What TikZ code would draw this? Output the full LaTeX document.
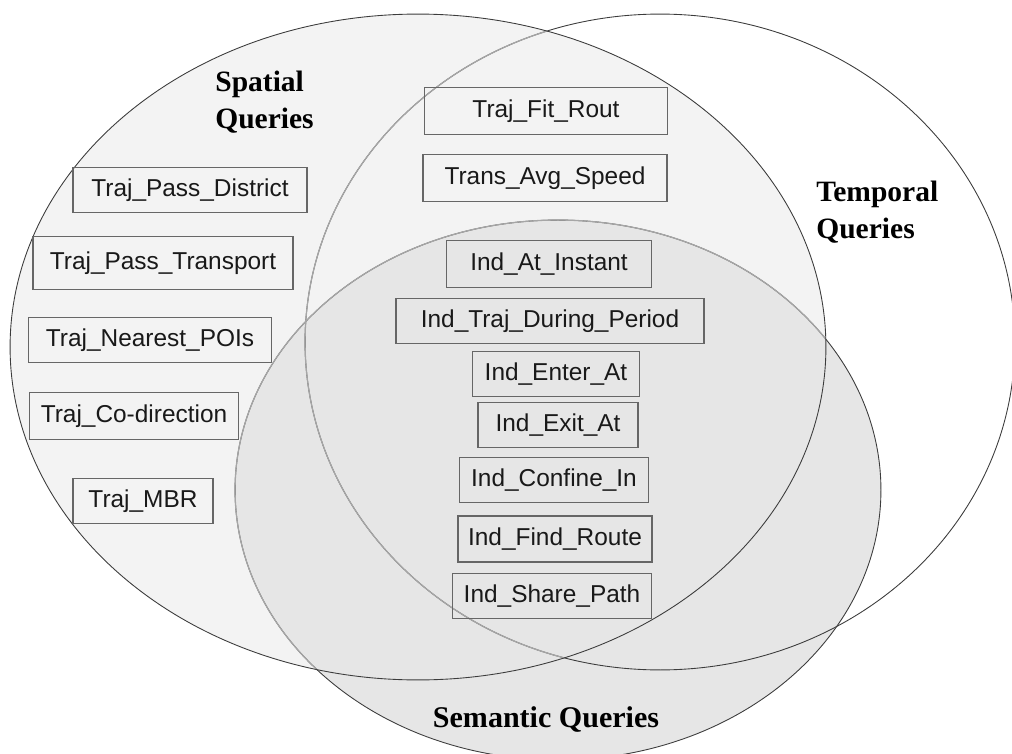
\documentclass[tikz,border=0pt]{standalone}
\usepackage{fontspec}
\setmainfont{Liberation Serif}
\setsansfont{Liberation Sans}
\usepackage{tikz}
\definecolor{spatcol}{RGB}{243,243,243}
\definecolor{semcol}{RGB}{230,230,230}
\definecolor{rimcol}{RGB}{60,60,60}
\tikzset{
  % query box
  qbox/.style={rectangle, draw=black!60, line width=0.7pt, minimum height=0.9cm, inner sep=2pt,
               text=black!90, font=\fontsize{13.9}{16}\selectfont\sffamily},
  % set title
  settitle/.style={font=\fontsize{16.8}{20.6}\selectfont\bfseries, align=left, inner sep=0pt},
  % set outline
  rim/.style={draw=rimcol, line width=0.5pt},
  % outline seen through the spatial set
  softrim/.style={draw=black!35, line width=0.7pt},
}

\begin{document}
\begin{tikzpicture}[x=0.02cm, y=-0.02cm]
  \useasboundingbox (0,0) rectangle (1012,754);
  \clip (0,0) rectangle (1012,754);
  % set fills
  \fill[spatcol] (418,347) ellipse [x radius=8.16cm, y radius=6.66cm];
  \fill[semcol] (558,490) ellipse [x radius=6.46cm, y radius=5.4cm];
  % outlines
  \draw[rim] (660,342) ellipse [x radius=7.1cm, y radius=6.56cm];
  \draw[rim] (558,490) ellipse [x radius=6.46cm, y radius=5.4cm];
  \begin{scope}
    \clip (418,347) ellipse [x radius=8.16cm, y radius=6.66cm];
    \draw[softrim] (660,342) ellipse [x radius=7.1cm, y radius=6.56cm];
    \draw[softrim] (558,490) ellipse [x radius=6.46cm, y radius=5.4cm];
  \end{scope}
  \draw[rim] (418,347) ellipse [x radius=8.16cm, y radius=6.66cm];

  % set titles (base = last line)
  \node[settitle, anchor=base west] (spatial) at (215,128) {Spatial\\Queries};
  \node[settitle, anchor=base west] (temporal) at (816,238) {Temporal\\Queries};
  \node[settitle, anchor=base, font=\fontsize{17.1}{20.6}\selectfont\bfseries] (semantic) at (546,727) {Semantic Queries};

  % spatial only
  \node[qbox, minimum width=4.68cm] (passdistrict) at (190,190) {Traj\_Pass\_District};
  \node[qbox, minimum width=5.2cm, minimum height=1.06cm] (passtransport) at (163,263) {Traj\_Pass\_Transport};
  \node[qbox, minimum width=4.86cm] (nearestpois) at (150,340) {Traj\_Nearest\_POIs};
  \node[qbox, minimum width=4.18cm, minimum height=0.94cm] (codirection) at (134,416) {Traj\_Co-direction};
  \node[qbox, minimum width=2.8cm] (mbr) at (143,501) {Traj\_MBR};

  % spatial and temporal
  \node[qbox, minimum width=4.86cm, minimum height=0.94cm] (fitrout) at (546,111) {Traj\_Fit\_Rout};
  \node[qbox, minimum width=4.88cm, minimum height=0.94cm] (avgspeed) at (545,178) {Trans\_Avg\_Speed};

  % all three
  \node[qbox, minimum width=4.1cm, minimum height=0.94cm] (atinstant) at (549,264) {Ind\_At\_Instant};
  \node[qbox, minimum width=6.16cm] (duringperiod) at (550,321) {Ind\_Traj\_During\_Period};
  \node[qbox, minimum width=3.34cm] (enterat) at (556,374) {Ind\_Enter\_At};
  \node[qbox, minimum width=3.2cm] (exitat) at (558,425) {Ind\_Exit\_At};
  \node[qbox, minimum width=3.78cm] (confinein) at (554,480) {Ind\_Confine\_In};
  \node[qbox, minimum width=3.88cm, minimum height=0.92cm] (findroute) at (555,539) {Ind\_Find\_Route};
  \node[qbox, minimum width=3.98cm] (sharepath) at (552,596) {Ind\_Share\_Path};
\end{tikzpicture}
\end{document}
